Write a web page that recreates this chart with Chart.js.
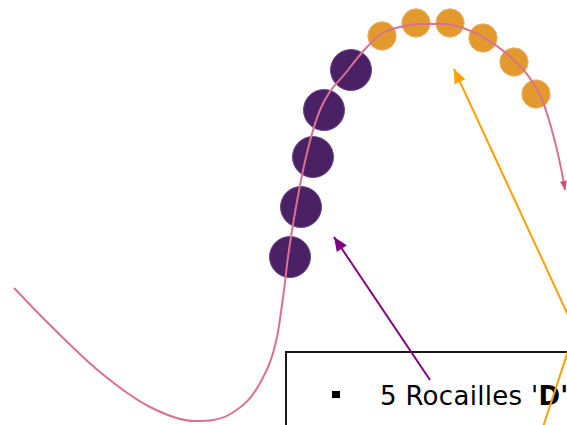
<!DOCTYPE html>
<html><head><meta charset="utf-8">
<script src="https://cdn.jsdelivr.net/npm/chart.js@4.4.1/dist/chart.umd.min.js"></script>
<style>
html,body{margin:0;padding:0;background:#fff;overflow:hidden;width:567px;height:425px;}
#wrap{position:relative;width:567px;height:425px;overflow:hidden;}
#box{position:absolute;left:285px;top:351px;width:400px;height:200px;border:2px solid #1a1a1a;box-sizing:border-box;}
#bullet{position:absolute;left:332px;top:391px;width:8px;height:7px;background:#000;}
#label{position:absolute;left:380px;top:381px;font-family:"DejaVu Sans",Verdana,sans-serif;font-size:26px;line-height:30px;white-space:nowrap;color:#000;letter-spacing:0.3px;}
canvas{position:absolute;left:0;top:0;}
</style></head>
<body><div id="wrap"><div id="box"></div><div id="bullet"></div><div id="label">5 Rocailles '<b>D'</b></div><canvas id="c" width="567" height="425"></canvas></div>
<script>
// Curve (thread) path
const curveX = [14,50,100,150,195,232,260,277,284,288,296,306,320,348,367,381,400,420,443,463,483,506,526,541,549,557,562,565];
const curveY = [288,325,372,407,421,413,383,337,290,257,207,157,110,70,47,34,27,24,24,28,37,53,73,97,120,150,173,190];
// Purple beads ('D' rocailles)
const purpleX = [290,301,313,324,351];
const purpleY = [257,207,157,110,70];
// Orange beads
const orangeX = [382,416,450,483,514,536];
const orangeY = [36,23,23,38,62,94];
// Pointer arrows: [tail, tip]
const purpleArrowX = [430,334];
const purpleArrowY = [380,237];
const orangeArrowX = [580,454];
const orangeArrowY = [341,69];
const orangeLine2X = [575,542];
const orangeLine2Y = [330,430];

const pts = (xs, ys) => xs.map((x, i) => ({x, y: ys[i]}));

const arrowPlugin = {
  id: 'arrowHeads',
  afterDatasetsDraw(chart) {
    const ctx = chart.ctx;
    chart.data.datasets.forEach((ds, i) => {
      if (!ds.arrowHead) return;
      const d = chart.getDatasetMeta(i).data;
      const n = d.length;
      const tip = d[n - 1], prev = d[n - 2];
      const a = Math.atan2(tip.y - prev.y, tip.x - prev.x);
      const L = ds.arrowHead.len, W = ds.arrowHead.width;
      const bx = tip.x - L * Math.cos(a), by = tip.y - L * Math.sin(a);
      ctx.save();
      ctx.fillStyle = ds.arrowHead.color;
      ctx.beginPath();
      ctx.moveTo(tip.x, tip.y);
      ctx.lineTo(bx + W / 2 * Math.sin(a), by - W / 2 * Math.cos(a));
      ctx.lineTo(bx - W / 2 * Math.sin(a), by + W / 2 * Math.cos(a));
      ctx.closePath();
      ctx.fill();
      ctx.restore();
    });
  }
};

new Chart(document.getElementById('c'), {
  type: 'scatter',
  data: {
    datasets: [
      { label: 'purple beads', data: pts(purpleX, purpleY), order: 6,
        pointRadius: 20.5, pointBackgroundColor: '#4b2165', pointBorderColor: '#6b4688', pointBorderWidth: 1, showLine: false, clip: false },
      { label: 'orange beads', data: pts(orangeX, orangeY), order: 5,
        pointRadius: 14.2, pointBackgroundColor: '#e39a2c', pointBorderColor: '#e8b479', pointBorderWidth: 1, showLine: false, clip: false },
      { label: 'thread', data: pts(curveX, curveY), order: 4, showLine: true,
        borderColor: '#dc7090', borderWidth: 2, pointRadius: 0, cubicInterpolationMode: 'monotone',
        arrowHead: { len: 9, width: 7, color: '#d64a6c' } },
      { label: 'purple arrow', data: pts(purpleArrowX, purpleArrowY), order: 3, showLine: true,
        borderColor: '#800080', borderWidth: 2, pointRadius: 0,
        arrowHead: { len: 14, width: 12, color: '#800080' } },
      { label: 'orange arrow', data: pts(orangeArrowX, orangeArrowY), order: 2, showLine: true,
        borderColor: '#ffa000', borderWidth: 2, pointRadius: 0,
        arrowHead: { len: 14, width: 12, color: '#ffa000' } },
      { label: 'orange line', data: pts(orangeLine2X, orangeLine2Y), order: 1, showLine: true,
        borderColor: '#ffa000', borderWidth: 2, pointRadius: 0 }
    ]
  },
  options: {
    responsive: false,
    animation: false,
    events: [],
    layout: { padding: 0, autoPadding: false },
    scales: {
      x: { type: 'linear', min: 0, max: 567, bounds: 'data', display: false },
      y: { type: 'linear', min: 0, max: 425, reverse: true, bounds: 'data', display: false }
    },
    plugins: { legend: { display: false }, tooltip: { enabled: false } }
  },
  plugins: [arrowPlugin]
});
</script>
</body></html>
